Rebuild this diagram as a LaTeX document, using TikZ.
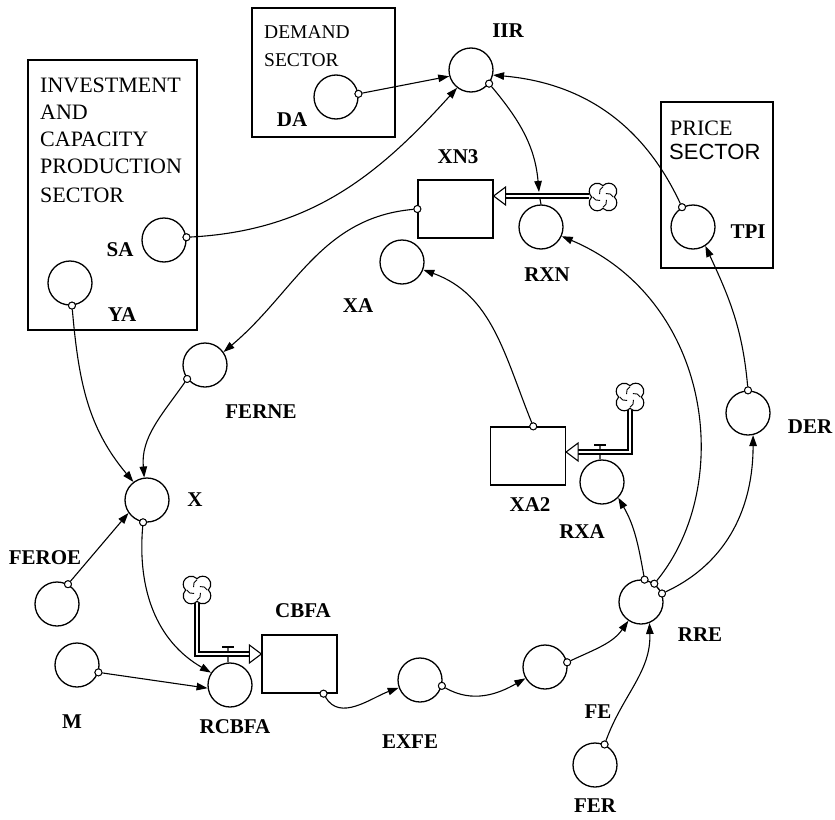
\documentclass[tikz,border=0pt]{standalone}
\usepackage{fontspec}
\setmainfont{Liberation Serif}
\newfontfamily\sectsans{Liberation Sans}
\usetikzlibrary{arrows.meta}
\begin{document}
\begin{tikzpicture}[x=1pt,y=-1pt,
  var/.style={circle,draw,line width=1.3pt,minimum size=44pt,inner sep=0pt},
  stock/.style={draw,line width=1.3pt,rectangle,inner sep=0pt,minimum width=75pt,minimum height=58pt},
  sdot/.style={circle,draw,line width=0.9pt,fill=white,minimum size=7pt,inner sep=0pt},
  arr/.style={line width=1.1pt,-{Triangle[length=11pt,width=7.5pt]}},
  lab/.style={font=\fontsize{21}{21}\selectfont\bfseries,inner sep=0pt},
  sect/.style={font=\fontsize{22}{27}\selectfont,inner sep=0pt,anchor=west},
  sectbox/.style={draw,line width=1.3pt},
  pipeo/.style={line width=5.5pt,line join=miter},
  pipei/.style={line width=2.3pt,white,line join=miter},
  openhead/.style={draw,line width=1.1pt,fill=white},
  valvebar/.style={line width=1.5pt},
  cloudsym/.pic={
    \begin{scope}[scale=1.15]
    \draw[line width=1.1pt,fill=white] (9.9,0) arc[start angle=-45.6,end angle=135.6,radius=7]
      arc[start angle=44.4,end angle=225.6,radius=7]
      arc[start angle=134.4,end angle=315.6,radius=7]
      arc[start angle=224.4,end angle=405.6,radius=7] -- cycle;
    \foreach \a in {0,90,180,270} \draw[line width=0.9pt,rotate=\a] (9,0) to[bend right=35] (2.5,-3);
    \end{scope}
  }
]
\useasboundingbox (0,0) rectangle (835,819);

% sector boxes
\draw[sectbox] (252,8) rectangle (395,137);
\node[sect,font=\fontsize{19.5}{24}\selectfont] (tDEM) at (264,32) {DEMAND};
\node[sect,font=\fontsize{19.5}{24}\selectfont] (tDEM2) at (264,60) {SECTOR};
\draw[sectbox] (28,60) rectangle (197,330);
\node[sect] (tI1) at (40,85) {INVESTMENT};
\node[sect] (tI2) at (40,112) {AND};
\node[sect] (tI3) at (40,139) {CAPACITY};
\node[sect] (tI4) at (40,166) {PRODUCTION};
\node[sect] (tI5) at (40,195) {SECTOR};
\draw[sectbox] (661,102) rectangle (773,268);
\node[sect] (tP1) at (670,128) {PRICE};
\node[sect,font=\fontsize{22}{27}\selectfont\sectsans] (tP2) at (669,152) {SECTOR};

% variables
\node[var] (IIR) at (471,70) {};
\node[var] (DA) at (336,97) {};
\node[var] (SA) at (164,240) {};
\node[var] (YA) at (70,283) {};
\node[var] (RXN) at (541,227) {};
\node[var] (TPI) at (693,227) {};
\node[var] (XA) at (402,262) {};
\node[var] (FERNE) at (205,365) {};
\node[var] (DER) at (748,413) {};
\node[var] (RXA) at (602,482) {};
\node[var] (X) at (147,500) {};
\node[var] (FEROE) at (57,604) {};
\node[var] (RRE) at (641,602) {};
\node[var] (M) at (77,665) {};
\node[var] (FE) at (545,667) {};
\node[var] (EXFE) at (420,680) {};
\node[var] (RCBFA) at (230,685) {};
\node[var] (FER) at (595,765) {};

% stocks
\node[stock] (XN3) at (455.5,209) {};
\node[stock] (XA2) at (528,456) {};
\node[stock] (CBFA) at (299.5,664) {};

% clouds
\pic at (603,197) {cloudsym};
\coordinate (c1) at (589,196);
\pic at (630,397) {cloudsym};
\coordinate (c2) at (630,410);
\pic at (197,590) {cloudsym};
\coordinate (c3) at (197,603);

% valve stems
\draw[line width=1.1pt] (540,199) -- (RXN.north);
\draw[line width=1.1pt] (600,445) -- (RXA.95);
\draw[line width=1.1pt] (228,647) -- (RCBFA.95);

% pipes
\draw[pipeo] (c1) -- (505,196);
\draw[pipei] (c1) -- (505,196);
\draw[openhead] (XN3.east |- 0,196) -- ++(12,-9) -- ++(0,18) -- cycle;
\draw[pipeo] (c2) -- (630,452) -- (578,452);
\draw[pipei] (c2) -- (630,452) -- (578,452);
\draw[openhead] (XA2.east |- 0,452) -- ++(12,-9) -- ++(0,18) -- cycle;
\draw[pipeo] (c3) -- (197,654) -- (250,654);
\draw[pipei] (c3) -- (197,654) -- (250,654);
\draw[openhead] (CBFA.west |- 0,654) -- ++(-12,-9) -- ++(0,18) -- cycle;
\draw[valvebar] (594,445) -- (606,445);
\draw[valvebar] (222,647) -- (234,647);
\coordinate (vRXN) at (539,192);

% start dots
\node[sdot] (dDA) at (DA.8) {};
\node[sdot] (dSA) at (SA.7) {};
\node[sdot] (dTPI) at (TPI.119) {};
\node[sdot] (dIIR) at (IIR.-37) {};
\node[sdot] (dXN3) at (XN3.west) {};
\node[sdot] (dXA2) at (XA2.80) {};
\node[sdot] (dFERNE) at (FERNE.218) {};
\node[sdot] (dYA) at (YA.-85) {};
\node[sdot] (dFEROE) at (FEROE.61) {};
\node[sdot] (dX) at (X.-100) {};
\node[sdot] (dM) at (M.-19) {};
\node[sdot] (dCBFA) at (CBFA.-51) {};
\node[sdot] (dEXFE) at (EXFE.-15) {};
\node[sdot] (dFE) at (FE.12) {};
\node[sdot] (dFER) at (FER.65) {};
\node[sdot] (dRRE1) at (RRE.81) {};
\node[sdot] (dRRE2) at (RRE.54) {};
\node[sdot] (dRRE3) at (RRE.22) {};
\node[sdot] (dDER) at (DER.90) {};

% connectors
\draw[arr] (dDA) -- (IIR.196);
\draw[arr] (dSA) to[out=3,in=228] (IIR.232);
\draw[arr] (dTPI) to[out=115,in=-5] (IIR.-13);
\draw[arr] (dIIR) to[out=-50,in=95] (vRXN);
\draw[arr] (dXN3) to[out=185,in=40] (FERNE.35);
\draw[arr] (dXA2) to[out=112,in=-20] (XA.-20);
\draw[arr] (dFERNE) to[out=235,in=95] (X.97);
\draw[arr] (dYA) to[out=-85,in=130] (X.127);
\draw[arr] (dFEROE) -- (X.215);
\draw[arr] (dX) to[out=-95,in=150] (RCBFA.147);
\draw[arr] (dM) -- (RCBFA.188);
\draw[arr] (dCBFA) to[out=-60,in=200] (EXFE.200);
\draw[arr] (dEXFE) to[out=-30,in=210] (FE.210);
\draw[arr] (dFE) to[out=25,in=235] (RRE.236);
\draw[arr] (dFER) to[out=70,in=-88] (RRE.-68);
\draw[arr] (dRRE1) to[out=100,in=-60] (RXA.-44);
\draw[arr] (dRRE2) .. controls (735,485) and (712,300) .. (RXN.-24);
\draw[arr] (dRRE3) to[out=25,in=-90] (DER.-77);
\draw[arr] (dDER) to[out=95,in=-65] (TPI.-57);
% dots on top
\foreach \d in {dDA,dSA,dTPI,dIIR,dXN3,dXA2,dFERNE,dYA,dFEROE,dX,dM,dCBFA,dEXFE,dFE,dFER,dRRE1,dRRE2,dRRE3,dDER}
  \draw[line width=0.9pt,fill=white] (\d.center) circle[radius=3.5pt];

% labels
\node[lab] (lIIR) at (508,31) {IIR};
\node[lab] (lDA) at (292,120) {DA};
\node[lab] (lSA) at (120,250) {SA};
\node[lab] (lYA) at (122,315) {YA};
\node[lab] (lXN3) at (458,157) {XN3};
\node[lab] (lRXN) at (547,275) {RXN};
\node[lab] (lTPI) at (748,232) {TPI};
\node[lab] (lXA) at (358,306) {XA};
\node[lab] (lFERNE) at (261,412) {FERNE};
\node[lab] (lDER) at (810,427) {DER};
\node[lab] (lXA2) at (530,505) {XA2};
\node[lab] (lRXA) at (582,532) {RXA};
\node[lab] (lX) at (195,500) {X};
\node[lab] (lFEROE) at (45,558) {FEROE};
\node[lab] (lCBFA) at (303,611) {CBFA};
\node[lab] (lRRE) at (700,635) {RRE};
\node[lab] (lM) at (72,722) {M};
\node[lab] (lRCBFA) at (235,727) {RCBFA};
\node[lab] (lEXFE) at (410,742) {EXFE};
\node[lab] (lFE) at (598,712) {FE};
\node[lab] (lFER) at (595,806) {FER};
\end{tikzpicture}
\end{document}
